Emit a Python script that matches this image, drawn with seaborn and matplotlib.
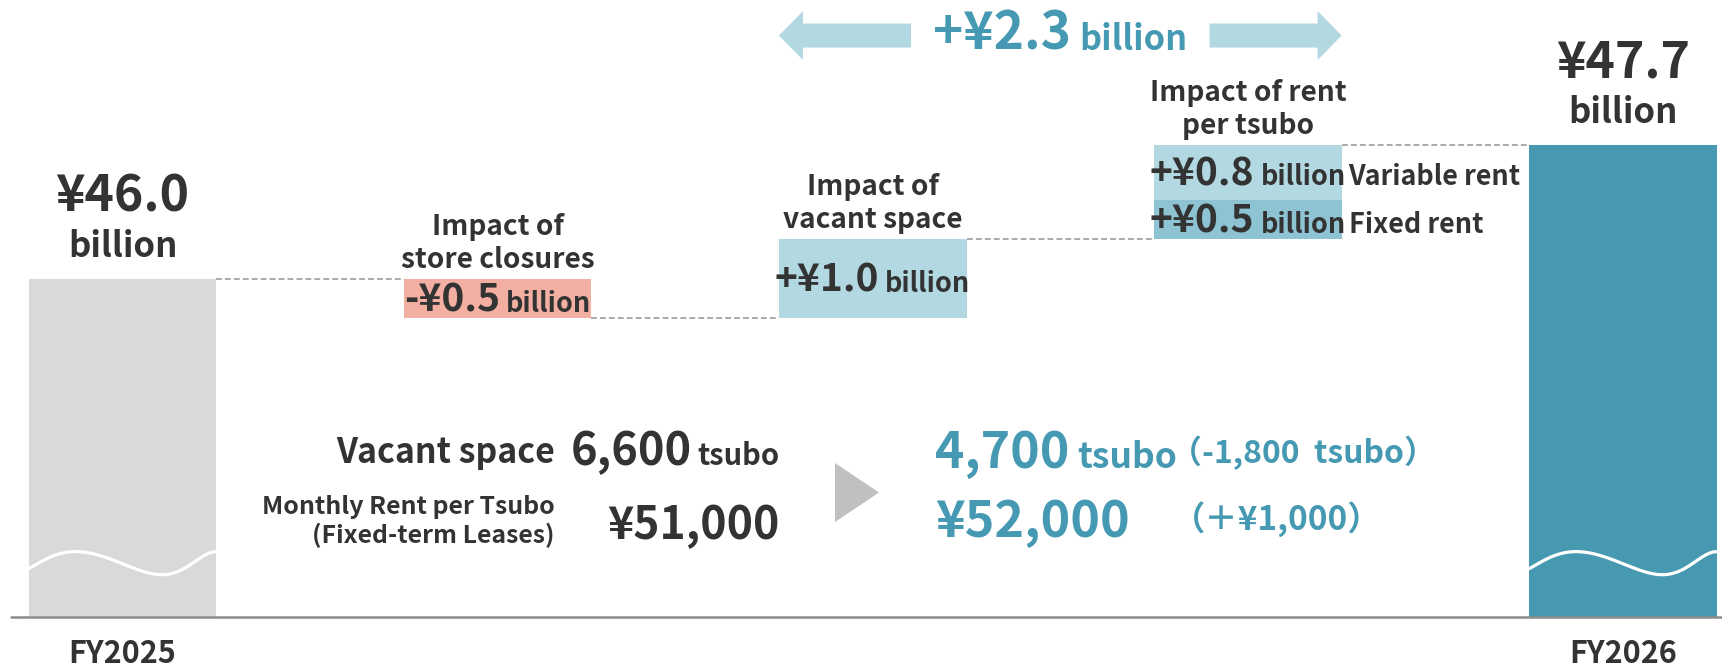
import numpy as np
import matplotlib
matplotlib.use('Agg')
import matplotlib.pyplot as plt
from matplotlib.patches import Polygon
from matplotlib.transforms import IdentityTransform
import seaborn as sns

# ---- data (¥ billion) ----
total_fy2025 = 46.0
total_fy2026 = 47.7
impact_closures = -0.5
impact_vacant = 1.0
impact_fixed_rent = 0.5
impact_variable_rent = 0.8
impact_total = 2.3
vacant_space = [6600, 4700]      # tsubo, FY2025 -> FY2026
vacant_change = -1800            # as printed in the chart
monthly_rent = [51000, 52000]    # yen per tsubo (fixed-term leases)
rent_change = 1000
year_labels = ['FY2025', 'FY2026']
step_titles = [['Impact of', 'store closures'],
               ['Impact of', 'vacant space'],
               ['Impact of rent', 'per tsubo']]

# ---- style ----
sns.set_theme(style='white')
plt.rcParams['font.family'] = ['Noto Sans CJK JP', 'DejaVu Sans']
plt.rcParams['font.weight'] = 'bold'

DARK = '#333333'
TEAL = '#4699b2'
GREY_BAR = '#d9d9d9'
BLUE_BAR = '#4699b1'
SALMON = '#f3afa2'
LIGHT = '#b2d8e1'
MID = '#8dc3d3'

W, H = 1722, 669
fig = plt.figure(figsize=(W / 100, H / 100), dpi=100)
ax = fig.add_axes([0, 0, 1, 1])
floor = 41.72   # truncated baseline of the total bars

after_closures = total_fy2025 + impact_closures
after_vacant = after_closures + impact_vacant
after_fixed = after_vacant + impact_fixed_rent

# (position, bottom, top, colour); the rounded figures do not add up exactly,
# so the variable-rent block closes at the FY2026 total as in the original
segments = [
    (0, floor, total_fy2025, GREY_BAR),
    (1, after_closures, total_fy2025, SALMON),
    (2, after_closures, after_vacant, LIGHT),
    (3, after_vacant, after_fixed, MID),
    (3, after_fixed, total_fy2026, LIGHT),
    (4, floor, total_fy2026, BLUE_BAR),
]
for pos, lo, hi, col in segments:
    sns.barplot(x=[pos], y=[hi - lo], bottom=lo, native_scale=True, orient='x',
                width=0.5, color=col, saturation=1, errorbar=None, linewidth=0, ax=ax)

ax.set_xlim(-0.3266, 4.264)
ax.set_ylim(41.06, 49.53)
ax.set_axis_off()

# dashed connectors between steps
for i, lvl in enumerate([total_fy2025, after_closures, after_vacant, total_fy2026]):
    ax.plot([i + 0.25, i + 0.75], [lvl, lvl], color='#aaaaaa', lw=1.4, dashes=(3, 1.6))

# baseline
ax.plot([-0.297, 4.264], [floor, floor], color='#8c8c8c', lw=1.8, zorder=5)

# wavy "axis break" lines in the total bars
t = np.linspace(0, 1, 120)
phase = np.polyval(np.polyfit([0, 0.25, 0.71, 1.0], [-0.5, np.pi / 2, 3 * np.pi / 2, 5 * np.pi / 2], 3), t)
for pos in (0, 4):
    ax.plot(pos - 0.25 + 0.5 * t, 42.40 + 0.146 * np.sin(phase), color='white', lw=2.3)

# double arrow over the three impact steps
arr_y = 49.08
head, shaft_len, hh, sh = 0.064, 0.352, 0.31, 0.152
for tip, d in [(1.75, 1), (3.25, -1)]:
    pts = [(tip, arr_y), (tip + d * head, arr_y + hh), (tip + d * head, arr_y + sh),
           (tip + d * shaft_len, arr_y + sh), (tip + d * shaft_len, arr_y - sh),
           (tip + d * head, arr_y - sh), (tip + d * head, arr_y - hh)]
    ax.add_patch(Polygon(pts, closed=True, color=LIGHT, lw=0))

fig.canvas.draw()
renderer = fig.canvas.get_renderer()


def pix(x, y):
    return ax.transData.transform((x, y))


def rich_text(x, y, parts, ha='center', gap=6):
    # parts share one baseline at display point (x, y)
    arts, widths = [], []
    for s, size, col in parts:
        tx = fig.text(0, 0, s, fontsize=size, color=col, fontweight='bold',
                      ha='left', va='baseline', transform=IdentityTransform())
        arts.append(tx)
        widths.append(tx.get_window_extent(renderer).width)
    total = sum(widths) + gap * (len(parts) - 1)
    left = {'left': x, 'center': x - total / 2, 'right': x - total}[ha]
    for tx, w in zip(arts, widths):
        tx.set_position((left, y))
        left += w + gap


def yen(v):
    return f'¥{v:.1f}'


def signed(v):
    return ('+' if v > 0 else '-') + f'¥{abs(v):.1f}'


# totals above the end bars
for pos, val in [(0, total_fy2025), (4, total_fy2026)]:
    x, y = pix(pos, val)
    rich_text(x, y + 67, [(yen(val), 36, DARK)])
    rich_text(x, y + 22, [('billion', 25, DARK)])

# step titles
for pos, top, lines in zip([1, 2, 3], [total_fy2025, after_vacant, total_fy2026], step_titles):
    x, y = pix(pos, top)
    rich_text(x, y + 11, [(lines[1], 20.2, DARK)])
    rich_text(x, y + 44, [(lines[0], 20.2, DARK)])

# values inside the blocks
blocks = [(1, after_closures, total_fy2025, impact_closures, None),
          (2, after_closures, after_vacant, impact_vacant, None),
          (3, after_vacant, after_fixed, impact_fixed_rent, 'Fixed rent'),
          (3, after_fixed, total_fy2026, impact_variable_rent, 'Variable rent')]
for pos, lo, hi, val, side in blocks:
    x, y = pix(pos, (lo + hi) / 2)
    rich_text(x, y - 13, [(signed(val), 28, DARK), ('billion', 19.5, DARK)], gap=6)
    if side:
        xr, _ = pix(pos + 0.25, lo)
        rich_text(xr + 7, y - 13, [(side, 19.4, DARK)], ha='left')

# total change label
x, _ = pix(2.5, arr_y)
rich_text(x, H - 50, [(signed(impact_total), 37, TEAL), ('billion', 24.7, TEAL)], gap=8)

# year labels
for pos, lab in zip([0, 4], year_labels):
    x, _ = pix(pos, floor)
    rich_text(x, 6, [(lab, 22, DARK)])

# vacant space / rent per tsubo block
rich_text(555, H - 463, [('Vacant space', 24.4, DARK)], ha='right')
rich_text(780, H - 465, [(f'{vacant_space[0]:,}', 32.5, DARK), ('tsubo', 21, DARK)], ha='right')
rich_text(555, H - 514, [('Monthly Rent per Tsubo', 17.9, DARK)], ha='right')
rich_text(555, H - 543, [('(Fixed-term Leases)', 17.9, DARK)], ha='right')
rich_text(780, H - 539, [(f'¥{monthly_rent[0]:,}', 32, DARK)], ha='right')

tri = [(835, H - 463), (835, H - 522), (879, H - 492.5)]
inv = ax.transData.inverted()
ax.add_patch(Polygon(inv.transform(tri), closed=True, color='#c0c0c0', lw=0))

rich_text(935, H - 468, [(f'{vacant_space[1]:,}', 36, TEAL), ('tsubo', 25.5, TEAL)], ha='left', gap=8)
rich_text(1170, H - 463, [(f'（{vacant_change:,}  tsubo）', 23, TEAL)], ha='left')
rich_text(935, H - 537, [(f'¥{monthly_rent[1]:,}', 36.3, TEAL)], ha='left')
rich_text(1172, H - 530, [(f'（＋¥{rent_change:,}）', 24, TEAL)], ha='left')

fig.savefig('out.png', dpi=100, facecolor='white')
